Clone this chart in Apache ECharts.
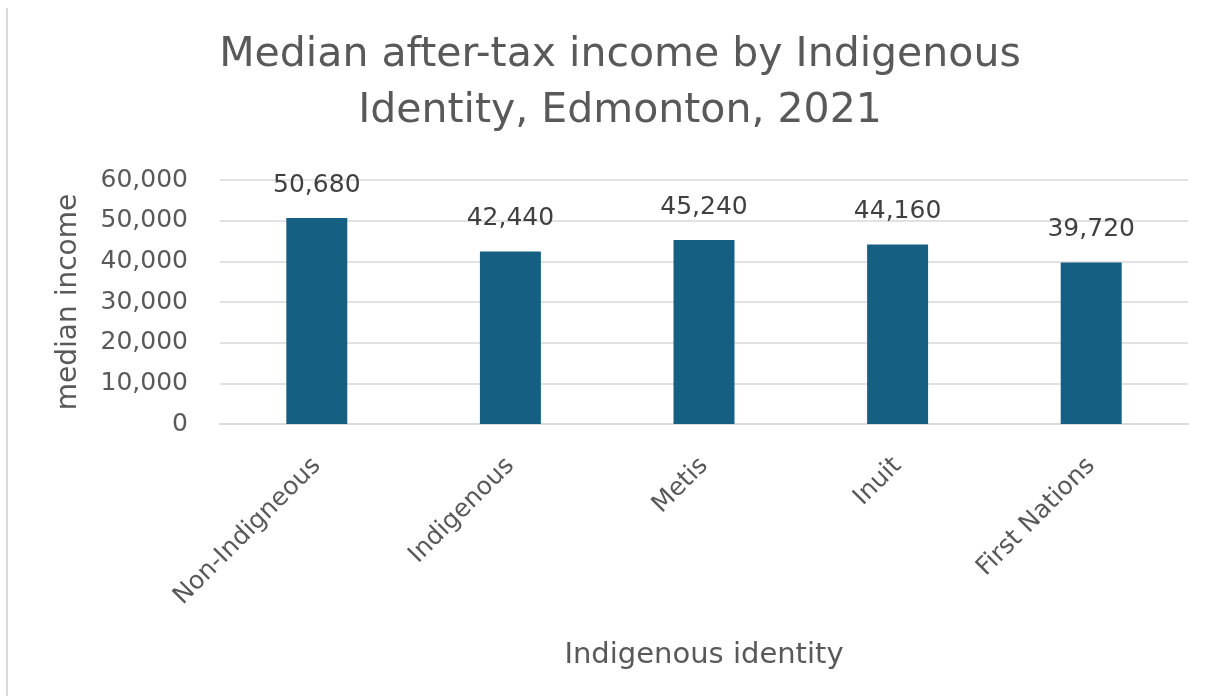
<!DOCTYPE html>
<html>
<head>
<meta charset="utf-8">
<script src="https://cdn.jsdelivr.net/npm/echarts@6/dist/echarts.min.js"></script>
<style>
  html, body { margin: 0; padding: 0; background: #ffffff; }
  #chart { width: 1221px; height: 696px; }
</style>
</head>
<body>
<div id="chart"></div>
<script>
// Median after-tax income by Indigenous identity, Edmonton, 2021
const categories = ['Non-Indigneous', 'Indigenous', 'Metis', 'Inuit', 'First Nations'];
const medianIncome = [50680, 42440, 45240, 44160, 39720];
const yTicks = { min: 0, max: 60000, interval: 10000 };

const FONT = '"DejaVu Sans", "Liberation Sans", sans-serif';
const TEXT = '#595959';

const fmt = v => v.toLocaleString('en-US');

const chart = echarts.init(document.getElementById('chart'), null, { renderer: 'canvas' });

chart.setOption({
  backgroundColor: '#ffffff',
  animation: false,
  title: {
    text: 'Median after-tax income by Indigenous\nIdentity, Edmonton, 2021',
    left: 615,
    top: 22,
    textAlign: 'center',
    textStyle: {
      fontFamily: FONT,
      fontSize: 41,
      fontWeight: 'normal',
      color: TEXT,
      lineHeight: 56
    }
  },
  graphic: [{
    type: 'line',
    shape: { x1: 7, y1: 8, x2: 7, y2: 696 },
    style: { stroke: '#d9d9d9', lineWidth: 2 }
  }],
  grid: { left: 220, right: 33, top: 180, bottom: 272 },
  xAxis: {
    type: 'category',
    data: categories,
    name: 'Indigenous identity',
    nameLocation: 'middle',
    nameGap: 217,
    nameTextStyle: { fontFamily: FONT, fontSize: 29, color: TEXT },
    axisLine: { show: true, lineStyle: { color: '#d9d9d9', width: 2 } },
    axisTick: { show: false },
    axisLabel: {
      rotate: 45,
      margin: 38,
      fontFamily: FONT,
      fontSize: 25,
      color: TEXT,
      interval: 0
    }
  },
  yAxis: {
    type: 'value',
    min: yTicks.min,
    max: yTicks.max,
    interval: yTicks.interval,
    name: 'median income',
    nameLocation: 'middle',
    nameGap: 137,
    nameRotate: 90,
    nameTextStyle: { fontFamily: FONT, fontSize: 28, color: TEXT },
    axisLine: { show: false },
    axisTick: { show: false },
    splitLine: { lineStyle: { color: '#d9d9d9', width: 1.5 } },
    axisLabel: {
      margin: 32,
      fontFamily: FONT,
      fontSize: 25,
      color: TEXT,
      formatter: v => fmt(v)
    }
  },
  series: [{
    type: 'bar',
    data: medianIncome,
    barWidth: '31.5%',
    itemStyle: { color: '#156082' },
    label: {
      show: true,
      position: 'top',
      distance: 20,
      fontFamily: FONT,
      fontSize: 25,
      color: '#404040',
      formatter: p => fmt(p.value)
    }
  }]
});
</script>
</body>
</html>
